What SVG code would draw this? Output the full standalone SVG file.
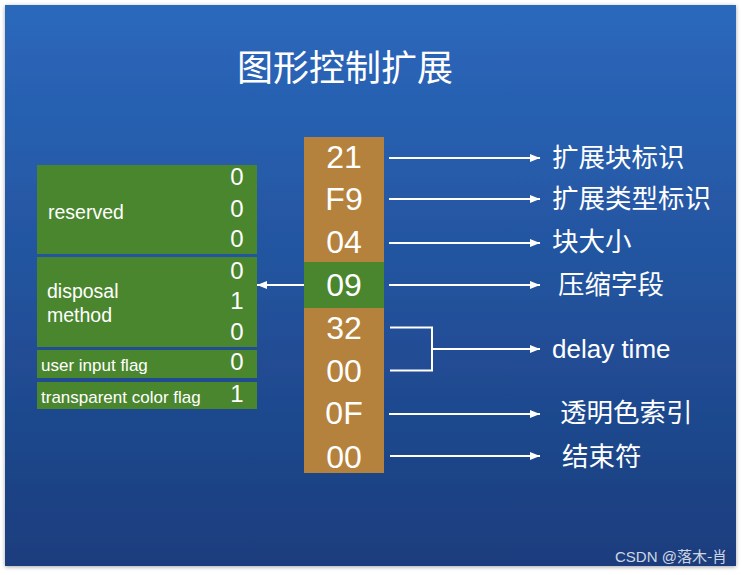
<svg xmlns="http://www.w3.org/2000/svg" width="742" height="575" viewBox="0 0 742 575">
<defs>
<linearGradient id="bg" x1="0" y1="0" x2="0" y2="1">
<stop offset="0" stop-color="#2b68bc"/>
<stop offset="1" stop-color="#1a3d7d"/>
</linearGradient>
<filter id="sh" x="-5%" y="-5%" width="110%" height="110%">
<feGaussianBlur in="SourceAlpha" stdDeviation="2"/>
<feOffset dx="0" dy="1"/>
<feComponentTransfer><feFuncA type="linear" slope="0.35"/></feComponentTransfer>
<feMerge><feMergeNode/><feMergeNode in="SourceGraphic"/></feMerge>
</filter>
<marker id="ah" viewBox="0 0 10 10" refX="10" refY="5" markerWidth="10" markerHeight="10" markerUnits="userSpaceOnUse" orient="auto">
<path d="M0,1 L10,5 L0,9 Z" fill="#ffffff"/>
</marker>
</defs>
<style>
.t{font-family:"Liberation Sans","Noto Sans CJK SC",Arial,sans-serif;fill:#ffffff}
.cn{font-family:"Noto Sans CJK SC","Liberation Sans",sans-serif;fill:#ffffff}
.hex{font-size:32px;text-anchor:middle}
.bit{font-size:24px;text-anchor:middle}
.lab{font-size:26.5px}
.box{fill:#4a862e}
.br{fill:#b5823d}
.ln{stroke:#ffffff;stroke-width:2;fill:none}
</style>
<rect x="0" y="0" width="742" height="575" fill="#ffffff"/>
<rect x="5" y="5" width="731" height="561" fill="url(#bg)" filter="url(#sh)"/>
<text class="cn" x="345" y="81" font-size="36" text-anchor="middle">图形控制扩展</text>

<g id="bytes">
<rect class="br" x="304" y="137" width="80" height="336"/>
<rect class="box" x="304" y="262" width="80" height="46"/>
<text class="t hex" x="344" y="168">21</text>
<text class="t hex" x="344" y="210">F9</text>
<text class="t hex" x="344" y="253">04</text>
<text class="t hex" x="344" y="296">09</text>
<text class="t hex" x="344" y="339">32</text>
<text class="t hex" x="344" y="382">00</text>
<text class="t hex" x="344" y="424">0F</text>
<text class="t hex" x="344" y="468">00</text>
</g>

<g id="reserved">
<rect class="box" x="37" y="165" width="220" height="89"/>
<text class="t" x="48" y="219" font-size="19.5">reserved</text>
<text class="t bit" x="237" y="185">0</text>
<text class="t bit" x="237" y="217">0</text>
<text class="t bit" x="237" y="247">0</text>
</g>
<g id="disposal">
<rect class="box" x="37" y="257" width="220" height="90"/>
<text class="t" x="47" y="298" font-size="19.5">disposal</text>
<text class="t" x="47" y="322" font-size="19.5">method</text>
<text class="t bit" x="237" y="279">0</text>
<text class="t bit" x="237" y="309">1</text>
<text class="t bit" x="237" y="340">0</text>
</g>
<g id="userinput">
<rect class="box" x="37" y="350" width="220" height="28"/>
<text class="t" x="41" y="371" font-size="17">user input flag</text>
<text class="t bit" x="237" y="370">0</text>
</g>
<g id="transparent">
<rect class="box" x="37" y="382" width="220" height="27"/>
<text class="t" x="41" y="403" font-size="17">transparent color flag</text>
<text class="t bit" x="237" y="402">1</text>
</g>

<g id="labels">
<text class="cn lab" x="552" y="167">扩展块标识</text>
<text class="cn lab" x="552" y="208">扩展类型标识</text>
<text class="cn lab" x="552" y="251">块大小</text>
<text class="cn lab" x="558" y="294">压缩字段</text>
<text class="t" x="552" y="358" font-size="26">delay time</text>
<text class="cn lab" x="560" y="422">透明色索引</text>
<text class="cn lab" x="562" y="466">结束符</text>
</g>

<g id="connectors">
<line class="ln" x1="389" y1="158" x2="540" y2="158" marker-end="url(#ah)"/>
<line class="ln" x1="389" y1="199" x2="540" y2="199" marker-end="url(#ah)"/>
<line class="ln" x1="389" y1="243" x2="540" y2="243" marker-end="url(#ah)"/>
<line class="ln" x1="389" y1="285" x2="540" y2="285" marker-end="url(#ah)"/>
<polyline class="ln" points="390,327.5 432,327.5 432,370.5 390,370.5"/>
<line class="ln" x1="432" y1="349" x2="540" y2="349" marker-end="url(#ah)"/>
<line class="ln" x1="389" y1="414" x2="540" y2="414" marker-end="url(#ah)"/>
<line class="ln" x1="390" y1="456" x2="540" y2="456" marker-end="url(#ah)"/>
<line class="ln" x1="304" y1="285" x2="257" y2="285" marker-end="url(#ah)"/>
</g>

<text class="t" x="615" y="562" font-size="15" fill-opacity="0.8">CSDN @<tspan font-family="'Noto Sans CJK SC',sans-serif">落木-肖</tspan></text>
</svg>
